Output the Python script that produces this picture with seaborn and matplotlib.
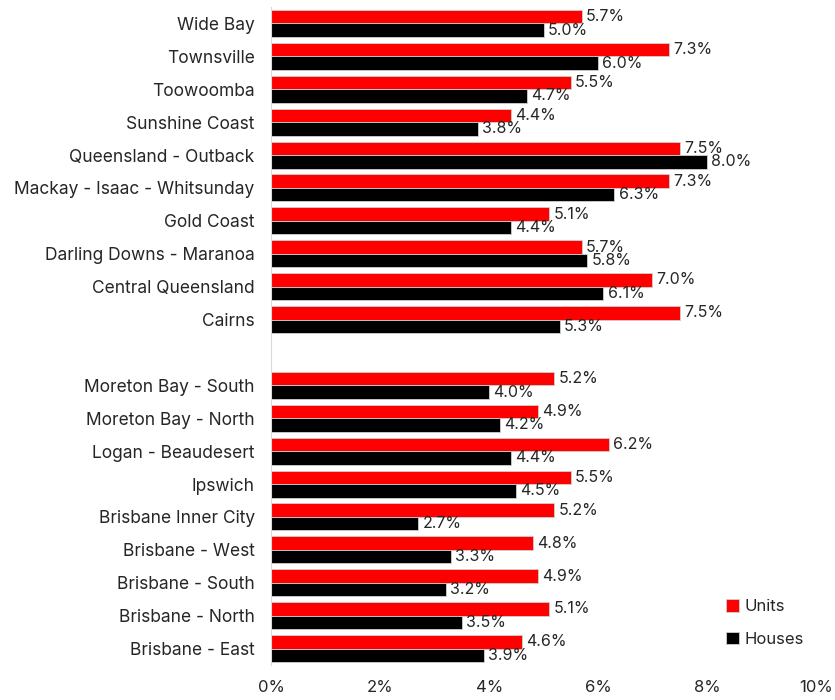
import pandas as pd
import numpy as np
import seaborn as sns
import matplotlib.pyplot as plt
from matplotlib.ticker import FuncFormatter

regions = ["Wide Bay", "Townsville", "Toowoomba", "Sunshine Coast",
           "Queensland - Outback", "Mackay - Isaac - Whitsunday", "Gold Coast",
           "Darling Downs - Maranoa", "Central Queensland", "Cairns",
           "Moreton Bay - South", "Moreton Bay - North", "Logan - Beaudesert",
           "Ipswich", "Brisbane Inner City", "Brisbane - West", "Brisbane - South",
           "Brisbane - North", "Brisbane - East"]
units = [5.7, 7.3, 5.5, 4.4, 7.5, 7.3, 5.1, 5.7, 7.0, 7.5,
         5.2, 4.9, 6.2, 5.5, 5.2, 4.8, 4.9, 5.1, 4.6]
houses = [5.0, 6.0, 4.7, 3.8, 8.0, 6.3, 4.4, 5.8, 6.1, 5.3,
          4.0, 4.2, 4.4, 4.5, 2.7, 3.3, 3.2, 3.5, 3.9]
x_ticks = [0, 2, 4, 6, 8, 10]

# blank slot between regional and Brisbane groups
order = regions[:10] + [" "] + regions[10:]

df = pd.DataFrame({
    "region": regions * 2,
    "type": ["Units"] * len(regions) + ["Houses"] * len(regions),
    "value": units + houses,
})

sns.set_style("white")
plt.rcParams["font.family"] = ["Inter", "DejaVu Sans"]

fig, ax = plt.subplots(figsize=(8.35, 7), dpi=100)
sns.barplot(data=df, y="region", x="value", hue="type", order=order,
            hue_order=["Units", "Houses"], palette=["#ff0000", "#000000"],
            saturation=1, orient="h", width=0.82, edgecolor="#d0d0d0",
            linewidth=0.6, ax=ax)

for cont in ax.containers:
    ax.bar_label(cont, fmt="%.1f%%", padding=3, fontsize=11.5)

ax.set_xlim(0, 10)
ax.set_xticks(x_ticks)
ax.xaxis.set_major_formatter(FuncFormatter(lambda v, p: f"{v:.0f}%"))
ax.set_xlabel("")
ax.set_ylabel("")
ax.tick_params(axis="x", length=0, pad=11, labelsize=12)
ax.tick_params(axis="y", length=0, pad=12, labelsize=12.5)
for s in ["top", "right", "bottom"]:
    ax.spines[s].set_visible(False)
ax.spines["left"].set_color("#d9d9d9")

ax.legend(title=None, frameon=False, loc="lower right", bbox_to_anchor=(1.005, 0.005),
          fontsize=12, handlelength=0.8, handleheight=0.8, handletextpad=0.3,
          labelspacing=1.05)

fig.subplots_adjust(left=0.325, right=0.977, top=0.99, bottom=0.05)
fig.savefig("out.png")
